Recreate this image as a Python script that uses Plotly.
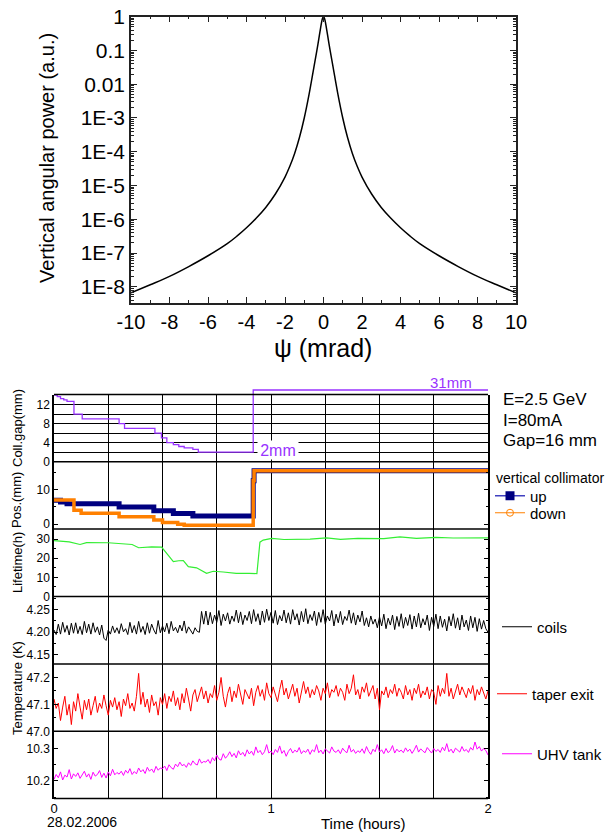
import numpy as np
import plotly.graph_objects as go

W, H = 610, 833
def px(x): return x / W
def py(y): return 1 - y / H

FONT = "Liberation Sans, Arial, sans-serif"

# ---------------- top chart data ----------------
psi = [-10, -9, -8, -7, -6, -5, -4.5, -4, -3.5, -3, -2.5, -2, -1.75, -1.5, -1.25, -1,
       -0.75, -0.5, -0.35, -0.25, -0.15, -0.08, -0.04, 0,
       0.04, 0.08, 0.15, 0.25, 0.35, 0.5, 0.75, 1, 1.25, 1.5, 1.75, 2, 2.5, 3, 3.5, 4, 4.5,
       5, 6, 7, 8, 9, 10]
power = [6.6e-9, 1.15e-8, 2.04e-8, 3.98e-8, 8.3e-8, 1.9e-7, 3.16e-7, 5.6e-7, 1.07e-6, 2.24e-6,
         5.6e-6, 1.78e-5, 3.7e-5, 8.9e-5, 2.63e-4, 1.0e-3,
         5.0e-3, 3.16e-2, 0.095, 0.21, 0.47, 0.78, 0.93, 1.0,
         0.93, 0.78, 0.47, 0.21, 0.095, 3.16e-2, 5.0e-3, 1.0e-3, 2.63e-4, 8.9e-5, 3.7e-5, 1.78e-5,
         5.6e-6, 2.24e-6, 1.07e-6, 5.6e-7, 3.16e-7,
         1.9e-7, 8.3e-8, 3.98e-8, 2.04e-8, 1.15e-8, 6.6e-9]
top_ytick_vals = [1, 0.1, 0.01, 1e-3, 1e-4, 1e-5, 1e-6, 1e-7, 1e-8]
top_ytick_text = ["1", "0.1", "0.01", "1E-3", "1E-4", "1E-5", "1E-6", "1E-7", "1E-8"]
top_xtick_vals = [-10, -8, -6, -4, -2, 0, 2, 4, 6, 8, 10]
top_xtick_text = ["-10", "-8", "-6", "-4", "-2", "0", "2", "4", "6", "8", "10"]

# ---------------- bottom chart data ----------------
gap_t = [0, 0.015, 0.03, 0.045, 0.06, 0.092, 0.13, 0.30, 0.325, 0.465, 0.495, 0.52,
         0.55, 0.575, 0.60, 0.64, 0.665, 0.918, 2.0]
gap_mm = [14, 13.7, 13.3, 13.0, 12.7, 10, 9, 8, 7, 6, 5, 4, 3.6, 3.2, 2.9, 2.6, 2.0, 31, 31]

up_t = [0, 0.03, 0.06, 0.30, 0.46, 0.55, 0.64, 0.918, 0.922, 2.0]
up_mm = [6.9, 6.4, 5.9, 5.0, 3.9, 3.1, 2.4, 12.6, 15.5, 15.5]
down_t = [0, 0.092, 0.125, 0.30, 0.46, 0.50, 0.57, 0.60, 0.918, 0.922, 2.0]
down_mm = [7.0, 4.0, 3.15, 2.15, 1.2, 0.5, 0.0, -0.3, 12.6, 15.5, 15.5]

life_t = [0, 0.07, 0.12, 0.15, 0.25, 0.335, 0.36, 0.39, 0.45, 0.496, 0.519, 0.55, 0.575,
          0.596, 0.619, 0.657, 0.703, 0.734, 0.78, 0.84, 0.90, 0.935, 0.949, 0.964, 1.003,
          1.06, 1.18, 1.256, 1.32, 1.40, 1.52, 1.594, 1.67, 1.76, 1.84, 1.92, 2.0]
life_h = [29.2, 28.6, 27.2, 28.2, 28.1, 27.7, 27.2, 25.5, 25.9, 25.8, 22.5, 18.2, 18.7,
          18.8, 15.6, 15.0, 12.1, 13.2, 12.8, 12.1, 12.1, 12.0, 28.4, 29.5, 30.4,
          29.8, 30.0, 30.7, 29.9, 30.4, 30.3, 31.2, 30.4, 30.9, 30.6, 30.8, 30.7]

temp_t = np.linspace(0, 2, 201)
coils = [4.205, 4.195, 4.218, 4.196, 4.222, 4.200, 4.215, 4.194, 4.220, 4.198,
         4.221, 4.197, 4.213, 4.195, 4.224, 4.199, 4.218, 4.196, 4.221, 4.200,
         4.212, 4.194, 4.216, 4.187, 4.182, 4.205, 4.196, 4.214, 4.199, 4.210,
         4.197, 4.219, 4.201, 4.208, 4.195, 4.222, 4.199, 4.215, 4.196, 4.224,
         4.200, 4.213, 4.195, 4.221, 4.198, 4.218, 4.205, 4.196, 4.226, 4.199,
         4.214, 4.201, 4.220, 4.197, 4.224, 4.203, 4.211, 4.199, 4.216, 4.203,
         4.225, 4.198, 4.212, 4.205, 4.196, 4.210, 4.202, 4.200, 4.246, 4.218,
         4.247, 4.216, 4.244, 4.219, 4.238, 4.222, 4.248, 4.215, 4.240, 4.225,
         4.243, 4.218, 4.236, 4.224, 4.249, 4.221, 4.245, 4.217, 4.238, 4.226,
         4.246, 4.219, 4.250, 4.224, 4.241, 4.216, 4.247, 4.222, 4.251, 4.226,
         4.244, 4.220, 4.248, 4.217, 4.237, 4.225, 4.249, 4.221, 4.243, 4.218,
         4.250, 4.227, 4.241, 4.216, 4.246, 4.223, 4.252, 4.219, 4.239, 4.226,
         4.247, 4.215, 4.244, 4.222, 4.250, 4.218, 4.236, 4.225, 4.248, 4.214,
         4.240, 4.221, 4.246, 4.217, 4.235, 4.226, 4.249, 4.220, 4.243, 4.216,
         4.238, 4.223, 4.247, 4.215, 4.232, 4.212, 4.236, 4.218, 4.229, 4.210,
         4.234, 4.214, 4.240, 4.208, 4.231, 4.216, 4.238, 4.206, 4.235, 4.213,
         4.241, 4.209, 4.233, 4.215, 4.239, 4.207, 4.236, 4.212, 4.242, 4.210,
         4.230, 4.216, 4.238, 4.204, 4.233, 4.213, 4.240, 4.208, 4.236, 4.211,
         4.229, 4.203, 4.235, 4.214, 4.241, 4.209, 4.232, 4.205, 4.238, 4.212,
         4.227, 4.204, 4.236, 4.210, 4.233, 4.202, 4.230, 4.207, 4.226, 4.208, 4.200]
taper = [47.120, 47.085, 47.105, 47.040, 47.090, 47.130, 47.060, 47.100, 47.025, 47.110,
         47.075, 47.140, 47.090, 47.045, 47.115, 47.080, 47.120, 47.060, 47.095, 47.130,
         47.070, 47.105, 47.085, 47.135, 47.095, 47.060, 47.115, 47.090, 47.125, 47.080,
         47.110, 47.055, 47.120, 47.095, 47.140, 47.085, 47.105, 47.075, 47.130, 47.215,
         47.100, 47.145, 47.090, 47.120, 47.070, 47.135, 47.095, 47.110, 47.060, 47.125,
         47.100, 47.140, 47.085, 47.130, 47.110, 47.150, 47.095, 47.125, 47.080, 47.140,
         47.105, 47.160, 47.120, 47.075, 47.135, 47.155, 47.110, 47.140, 47.165, 47.120,
         47.150, 47.105, 47.140, 47.125, 47.170, 47.115, 47.145, 47.200, 47.130, 47.090,
         47.140, 47.165, 47.110, 47.150, 47.125, 47.175, 47.135, 47.100, 47.155, 47.140,
         47.120, 47.160, 47.095, 47.145, 47.170, 47.130, 47.155, 47.115, 47.180, 47.140,
         47.125, 47.165, 47.140, 47.110, 47.155, 47.190, 47.135, 47.160, 47.120, 47.150,
         47.175, 47.130, 47.160, 47.105, 47.145, 47.185, 47.140, 47.165, 47.125, 47.155,
         47.135, 47.170, 47.150, 47.115, 47.160, 47.140, 47.180, 47.125, 47.155, 47.145,
         47.170, 47.130, 47.160, 47.145, 47.115, 47.175, 47.140, 47.160, 47.210, 47.135,
         47.155, 47.120, 47.165, 47.145, 47.180, 47.130, 47.150, 47.170, 47.120, 47.160,
         47.080, 47.150, 47.135, 47.165, 47.125, 47.155, 47.140, 47.175, 47.130, 47.160,
         47.145, 47.120, 47.170, 47.135, 47.155, 47.115, 47.160, 47.140, 47.175, 47.125,
         47.150, 47.135, 47.165, 47.120, 47.155, 47.145, 47.100, 47.170, 47.130, 47.160,
         47.140, 47.215, 47.130, 47.160, 47.120, 47.150, 47.175, 47.135, 47.165, 47.145,
         47.125, 47.160, 47.140, 47.170, 47.115, 47.155, 47.135, 47.165, 47.145, 47.120, 47.150]
uhv = [10.205, 10.220, 10.210, 10.228, 10.203, 10.218, 10.212, 10.235, 10.206, 10.222,
       10.214, 10.225, 10.208, 10.218, 10.230, 10.212, 10.222, 10.205, 10.227, 10.215,
       10.220, 10.232, 10.211, 10.224, 10.209, 10.228, 10.216, 10.236, 10.219, 10.226,
       10.221, 10.230, 10.217, 10.233, 10.224, 10.238, 10.220, 10.229, 10.222, 10.240,
       10.228, 10.235, 10.223, 10.242, 10.230, 10.237, 10.226, 10.245, 10.233, 10.240,
       10.238, 10.246, 10.232, 10.250, 10.241, 10.236, 10.252, 10.244, 10.258, 10.247,
       10.251, 10.242, 10.256, 10.248, 10.262, 10.253, 10.249, 10.268, 10.255, 10.260,
       10.258, 10.266, 10.254, 10.272, 10.262, 10.280, 10.268, 10.264, 10.284, 10.270,
       10.278, 10.290, 10.275, 10.285, 10.271, 10.293, 10.280, 10.288, 10.276, 10.296,
       10.283, 10.292, 10.279, 10.305, 10.287, 10.294, 10.281, 10.290, 10.312, 10.286,
       10.292, 10.281, 10.297, 10.288, 10.308, 10.285, 10.294, 10.276, 10.291, 10.300,
       10.286, 10.295, 10.289, 10.303, 10.284, 10.293, 10.288, 10.298, 10.282, 10.296,
       10.290, 10.312, 10.287, 10.295, 10.283, 10.299, 10.291, 10.286, 10.305, 10.292,
       10.288, 10.296, 10.284, 10.301, 10.292, 10.287, 10.310, 10.289, 10.297, 10.285,
       10.293, 10.288, 10.299, 10.285, 10.306, 10.291, 10.282, 10.298, 10.290, 10.312,
       10.289, 10.296, 10.284, 10.300, 10.287, 10.294, 10.309, 10.286, 10.298, 10.290,
       10.295, 10.287, 10.302, 10.291, 10.298, 10.285, 10.296, 10.310, 10.289, 10.299,
       10.292, 10.287, 10.303, 10.294, 10.286, 10.300, 10.291, 10.297, 10.288, 10.304,
       10.293, 10.315, 10.290, 10.298, 10.286, 10.301, 10.294, 10.289, 10.306, 10.292,
       10.297, 10.288, 10.303, 10.295, 10.320, 10.298, 10.306, 10.292, 10.300, 10.294, 10.280]

PURPLE = "#9933FF"
NAVY = "#000080"
ORANGE = "#FF8000"
GREEN = "#33EE33"

fig = go.Figure()

# top
fig.add_trace(go.Scatter(x=psi, y=power, mode="lines", xaxis="x", yaxis="y", showlegend=False,
                         line=dict(color="black", width=1.5, shape="spline", smoothing=1.0)))

# bottom
fig.add_trace(go.Scatter(x=gap_t, y=gap_mm, mode="lines", xaxis="x2", yaxis="y2", showlegend=False,
                         line=dict(color=PURPLE, width=1.3, shape="hv")))
fig.add_trace(go.Scatter(x=gap_t, y=gap_mm, mode="lines", xaxis="x3", yaxis="y8", showlegend=False,
                         line=dict(color=PURPLE, width=1.3, shape="hv")))
fig.add_trace(go.Scatter(x=up_t, y=up_mm, mode="lines", xaxis="x2", yaxis="y3", showlegend=False,
                         line=dict(color=NAVY, width=5, shape="hv")))
fig.add_trace(go.Scatter(x=down_t, y=down_mm, mode="lines", xaxis="x2", yaxis="y3", showlegend=False,
                         line=dict(color=ORANGE, width=3.5, shape="hv")))
fig.add_trace(go.Scatter(x=life_t, y=life_h, mode="lines", xaxis="x2", yaxis="y4", showlegend=False,
                         line=dict(color=GREEN, width=1.2)))
fig.add_trace(go.Scatter(x=temp_t, y=coils, mode="lines", xaxis="x2", yaxis="y5", name="coils",
                         legend="legend2", line=dict(color="black", width=1)))
fig.add_trace(go.Scatter(x=temp_t, y=taper, mode="lines", xaxis="x2", yaxis="y6", name="taper exit",
                         legend="legend3", line=dict(color="#FF0000", width=1)))
fig.add_trace(go.Scatter(x=temp_t, y=uhv, mode="lines", xaxis="x2", yaxis="y7", name="UHV tank",
                         legend="legend4", line=dict(color="#FF00FF", width=1)))
# legend entries for collimator
fig.add_trace(go.Scatter(x=[None], y=[None], mode="lines+markers", xaxis="x2", yaxis="y3", name="up",
                         legend="legend", line=dict(color="#4040C0", width=1.5),
                         marker=dict(symbol="square", size=9, color=NAVY)))
fig.add_trace(go.Scatter(x=[None], y=[None], mode="lines+markers", xaxis="x2", yaxis="y3", name="down",
                         legend="legend5", line=dict(color=ORANGE, width=1.2),
                         marker=dict(symbol="circle-open", size=7, color=ORANGE)))

minor_log = [k * 10.0 ** d for d in range(-9, 0) for k in range(2, 10)]

layout = dict(
    width=W, height=H, autosize=False, margin=dict(l=0, r=0, t=0, b=0, autoexpand=False),
    paper_bgcolor="white", plot_bgcolor="rgba(0,0,0,0)",
    font=dict(family=FONT, color="black"),
    xaxis=dict(domain=[px(131), px(516)], anchor="y", range=[-10, 10], automargin=False,
               tickmode="array", tickvals=top_xtick_vals, ticktext=top_xtick_text,
               showline=True, linecolor="#222", linewidth=1.5, mirror="ticks", ticks="inside",
               ticklen=6, tickcolor="#222", showgrid=False, zeroline=False,
               tickfont=dict(family=FONT, size=20, color="black"),
               minor=dict(tickmode="linear", tick0=0, dtick=1, ticks="inside", ticklen=3,
                          tickcolor="#222")),
    yaxis=dict(domain=[py(303), py(16.7)], anchor="x", type="log", range=[-8.48, 0],
               automargin=False,
               tickmode="array", tickvals=top_ytick_vals, ticktext=top_ytick_text,
               showline=True, linecolor="#222", linewidth=1.5, mirror="ticks", ticks="inside",
               ticklen=6, tickcolor="#222", showgrid=False, zeroline=False,
               tickfont=dict(family=FONT, size=21, color="black"),
               minor=dict(tickmode="array", tickvals=minor_log, ticks="inside", ticklen=3,
                          tickcolor="#222")),
    xaxis2=dict(domain=[px(54), px(488)], anchor="y7", range=[0, 2], dtick=1, tick0=0,
                automargin=False, showline=False, ticks="",
                showgrid=True, gridcolor="black", gridwidth=1, zeroline=False,
                tickfont=dict(family=FONT, size=13, color="black"),
                minor=dict(dtick=0.25, tick0=0, showgrid=True, gridcolor="black", gridwidth=1)),
    xaxis3=dict(domain=[px(54), px(488)], anchor="y8", range=[0, 2], visible=False, automargin=False),
    yaxis8=dict(domain=[py(394.5), py(384)], anchor="x3", range=[29.5, 33.0], visible=False,
                automargin=False),
)

panels = [(394.5, 461.7), (461.7, 529.0), (529.0, 596.5), (596.5, 664.0), (664.0, 731.3), (731.3, 798.5)]
yspecs = [
    dict(range=[0, 14.15], dtick=4, tick0=0, showgrid=True, gridcolor="black", gridwidth=1,
         minor=dict(dtick=2, tick0=0, showgrid=True, gridcolor="black", gridwidth=1,
                    ticks="inside", ticklen=3)),
    dict(range=[-1.4, 18.1], dtick=10, tick0=0, showgrid=False,
         minor=dict(dtick=5, tick0=0, ticks="inside", ticklen=2)),
    dict(range=[0, 35.3], dtick=10, tick0=0, showgrid=False,
         minor=dict(dtick=5, tick0=0, ticks="inside", ticklen=2)),
    dict(range=[4.13, 4.279], dtick=0.05, tick0=4.2, tickformat=".2f", showgrid=False,
         minor=dict(dtick=0.025, tick0=4.2, ticks="inside", ticklen=2)),
    dict(range=[47.0, 47.25], dtick=0.1, tick0=47.0, tickformat=".1f", showgrid=False,
         minor=dict(dtick=0.05, tick0=47.0, ticks="inside", ticklen=2)),
    dict(range=[10.146, 10.353], dtick=0.1, tick0=10.2, tickformat=".1f", showgrid=False,
         minor=dict(dtick=0.05, tick0=10.2, ticks="inside", ticklen=2)),
]
for i, ((top, bot), spec) in enumerate(zip(panels, yspecs)):
    d = dict(domain=[py(bot), py(top)], anchor="x2", showline=True, linecolor="black",
             linewidth=1.5, mirror="ticks", ticks="inside", ticklen=4, tickcolor="black",
             zeroline=False, automargin=False, tickfont=dict(family=FONT, size=12, color="black"))
    d.update(spec)
    layout["yaxis%d" % (i + 2)] = d

leg_common = dict(bgcolor="rgba(0,0,0,0)", borderwidth=0, font=dict(family=FONT, size=15, color="black"),
                  xanchor="left", yanchor="middle")
layout["legend"] = dict(leg_common, x=px(490), y=py(496))
layout["legend5"] = dict(leg_common, x=px(490), y=py(513))
layout["legend2"] = dict(leg_common, x=px(497), y=py(627))
layout["legend3"] = dict(leg_common, x=px(492), y=py(694))
layout["legend4"] = dict(leg_common, x=px(497), y=py(754))

# horizontal panel frame lines
bounds = [394.5, 461.7, 529.0, 596.5, 664.0, 731.3, 798.5]
layout["shapes"] = [dict(type="line", xref="paper", yref="paper", x0=px(54), x1=px(488),
                         y0=py(b), y1=py(b), line=dict(color="black", width=1.5))
                    for b in bounds]

fig.update_layout(**layout)

def ann(text, x, y, size, color="black", angle=0, xanchor="center", **kw):
    fig.add_annotation(text=text, x=px(x), y=py(y), xref="paper", yref="paper", showarrow=False,
                       font=dict(family=FONT, size=size, color=color), textangle=angle,
                       xanchor=xanchor, yanchor="middle", **kw)

ann("Vertical angular power (a.u.)", 47, 158, 20, angle=-90)
ann("ψ (mrad)", 323, 348, 25)

ann("31mm", 451, 382, 15, color=PURPLE)
ann("2mm", 278, 450, 16, color=PURPLE, bgcolor="white", width=40, height=18, borderpad=0)
ann("E=2.5 GeV", 501, 399, 17, xanchor="left")
ann("I=80mA", 501, 420, 17, xanchor="left")
ann("Gap=16 mm", 501, 440, 17, xanchor="left")
ann("vertical collimator", 494, 478, 14, xanchor="left")
ann("Coll.gap(mm)", 17, 428, 13, angle=-90)
ann("Pos.(mm)", 17, 500, 13, angle=-90)
ann("Lifetime(h)", 17, 563, 13, angle=-90)
ann("Temperature (K)", 17, 688, 13, angle=-90)
ann("28.02.2006", 82, 822, 14)
ann("Time (hours)", 363, 823, 15)

fig.write_html("out.html", config={"displayModeBar": False},
               post_script="document.body.style.margin='0';document.body.style.padding='0';"
                           "document.documentElement.style.overflow='hidden';")
